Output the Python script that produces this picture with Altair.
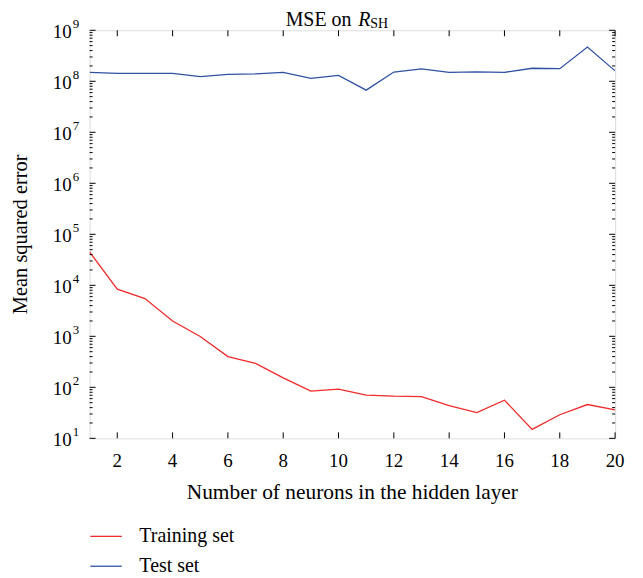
import altair as alt
import pandas as pd

# ---- data ----
neurons = list(range(1, 21))
train_mse = [45000, 8400, 5500, 2000, 990, 400, 295, 153, 84, 92,
             70, 67, 66, 44, 32, 56, 15, 29, 46, 36]
test_mse = [1.5e8, 1.43e8, 1.43e8, 1.43e8, 1.24e8, 1.36e8, 1.4e8, 1.5e8, 1.14e8, 1.31e8,
            6.7e7, 1.52e8, 1.75e8, 1.5e8, 1.53e8, 1.5e8, 1.8e8, 1.77e8, 4.7e8, 1.6e8]
series_names = ["Training set", "Test set"]
series_colors = ["#f02a2a", "#2f52a3"]
x_ticks = [2, 4, 6, 8, 10, 12, 14, 16, 18, 20]
y_exps = [1, 2, 3, 4, 5, 6, 7, 8, 9]
x_title = "Number of neurons in the hidden layer"
y_title = "Mean squared error"
title_main, title_var, title_sub = "MSE on ", "R", "SH"

FONT = "Liberation Serif"
W, H = 528, 410

df = pd.concat([
    pd.DataFrame({"neurons": neurons, "mse": train_mse, "series": series_names[0]}),
    pd.DataFrame({"neurons": neurons, "mse": test_mse, "series": series_names[1]}),
])
xt = pd.DataFrame({"x": x_ticks})
yt = pd.DataFrame({"v": [10.0 ** e for e in y_exps], "base": "10", "exp": [str(e) for e in y_exps]})
ym = pd.DataFrame({"v": [m * 10.0 ** k for k in range(1, 9) for m in range(2, 10)]})

xs = alt.Scale(domain=[1, 20], nice=False, zero=False)
ys = alt.Scale(type="log", domain=[10, 1e9], nice=False)

X = lambda f: alt.X(f, scale=xs, axis=None)
Y = lambda f: alt.Y(f, scale=ys, axis=None)

lines = alt.Chart(df).mark_line(strokeWidth=1.3, clip=True).encode(
    x=X("neurons:Q"),
    y=Y("mse:Q"),
    color=alt.Color("series:N",
                    scale=alt.Scale(domain=series_names, range=series_colors),
                    sort=series_names,
                    legend=alt.Legend(orient="none", legendX=0, legendY=492, title=None,
                                      symbolType="stroke", symbolSize=1000,
                                      symbolStrokeWidth=1.3, labelFont=FONT,
                                      labelFontSize=20, labelColor="black",
                                      labelOffset=17, rowPadding=3, padding=0,
                                      direction="vertical")),
)

tick = dict(color="black", strokeWidth=1)
bt = alt.Chart(xt).mark_rule(**tick).encode(x=X("x:Q"), y=alt.value(H), y2=alt.value(H - 6))
tt = alt.Chart(xt).mark_rule(**tick).encode(x=X("x:Q"), y=alt.value(0), y2=alt.value(6))
lt = alt.Chart(yt).mark_rule(**tick).encode(y=Y("v:Q"), x=alt.value(0), x2=alt.value(6))
rt = alt.Chart(yt).mark_rule(**tick).encode(y=Y("v:Q"), x=alt.value(W), x2=alt.value(W - 6))
lm = alt.Chart(ym).mark_rule(**tick).encode(y=Y("v:Q"), x=alt.value(0), x2=alt.value(3))
rm = alt.Chart(ym).mark_rule(**tick).encode(y=Y("v:Q"), x=alt.value(W), x2=alt.value(W - 3))

xl = alt.Chart(xt).mark_text(font=FONT, fontSize=19, baseline="middle", align="center").encode(
    x=X("x:Q"), y=alt.value(H + 23), text="x:Q")
yl_base = alt.Chart(yt).mark_text(font=FONT, fontSize=19, baseline="middle", align="right", dy=2).encode(
    y=Y("v:Q"), x=alt.value(-18), text="base:N")
yl_exp = alt.Chart(yt).mark_text(font=FONT, fontSize=13, baseline="middle", align="left", dy=-6).encode(
    y=Y("v:Q"), x=alt.value(-17), text="exp:N")

one = pd.DataFrame({"a": [0]})
xtitle = alt.Chart(one).mark_text(text=x_title, font=FONT, fontSize=21.5, baseline="middle").encode(
    x=alt.value(W / 2), y=alt.value(H + 55))
ytitle = alt.Chart(one).mark_text(text=y_title, font=FONT, fontSize=20.5, baseline="middle", angle=270).encode(
    x=alt.value(-69), y=alt.value(205))
t1 = alt.Chart(one).mark_text(text=title_main, font=FONT, fontSize=20, baseline="middle", align="left").encode(
    x=alt.value(197), y=alt.value(-10))
t2 = alt.Chart(one).mark_text(text=title_var, font=FONT, fontSize=20, baseline="middle", align="left",
                              fontStyle="italic").encode(x=alt.value(270), y=alt.value(-10))
t3 = alt.Chart(one).mark_text(text=title_sub, font=FONT, fontSize=14, baseline="middle", align="left").encode(
    x=alt.value(282), y=alt.value(-6))

chart = alt.layer(lines, bt, tt, lt, rt, lm, rm, xl, yl_base, yl_exp, xtitle, ytitle, t1, t2, t3).properties(
    width=W, height=H,
    padding={"left": 82, "top": 21, "right": 20, "bottom": 150},
    autosize="none",
).configure_view(stroke="black", strokeWidth=1.8).configure(background="white")

chart.save("out.html", embed_options={"renderer": "svg", "actions": False})
